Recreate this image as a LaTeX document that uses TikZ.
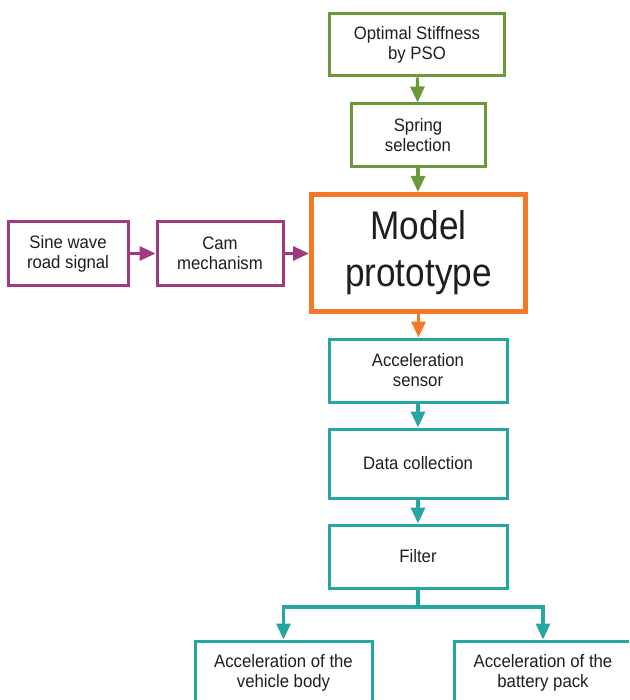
\documentclass[tikz,border=0pt]{standalone}
\usepackage{fontspec}
\setmainfont{Liberation Sans}[FakeStretch=0.93]
\newfontfamily\bigfont{Liberation Sans}[FakeStretch=0.88]
\usetikzlibrary{arrows.meta}
\definecolor{cgreen}{RGB}{106,153,59}
\definecolor{cpurple}{RGB}{160,57,128}
\definecolor{corange}{RGB}{245,120,40}
\definecolor{cteal}{RGB}{38,166,160}
\definecolor{ctext}{RGB}{30,30,30}
\tikzset{
  box/.style={draw, line width=3pt, fill=white, inner sep=0pt, align=center,
    text=ctext, font=\fontsize{18}{20}\selectfont},
  gbox/.style={box, draw=cgreen},
  pbox/.style={box, draw=cpurple},
  tbox/.style={box, draw=cteal},
  obox/.style={box, draw=corange, line width=5pt, font=\bigfont\fontsize{40}{47}\selectfont},
  arr/.style={line width=3.2pt, -{Triangle[length=16pt,width=14pt]}},
}
\begin{document}
\begin{tikzpicture}[x=1pt,y=-1pt]
\useasboundingbox (0,0) rectangle (629,700);
\clip (0,0) rectangle (629,700);
\fill[white] (0,0) rectangle (629,700);
\node[gbox, minimum width=175, minimum height=62] (pso) at (417,45) {Optimal Stiffness\\by PSO};
\node[gbox, minimum width=134, minimum height=63] (spring) at (418,135.5) {Spring\\selection};
\node[obox, minimum width=214, minimum height=117] (model) at (418.5,253) {Model\\prototype};
\node[pbox, minimum width=120, minimum height=63] (sine) at (68,253.5) {Sine wave\\road signal};
\node[pbox, minimum width=126, minimum height=63] (cam) at (220,253.5) {Cam\\mechanism};
\node[tbox, minimum width=178, minimum height=63] (sensor) at (418,370.5) {Acceleration\\sensor};
\node[tbox, minimum width=178, minimum height=69] (data) at (418,463.5) {Data collection};
\node[tbox, minimum width=178, minimum height=63] (filter) at (418,556.5) {Filter};
\node[tbox, minimum width=177, minimum height=63] (body) at (283.5,672.5) {Acceleration of the\\vehicle body};
\node[tbox, minimum width=177, minimum height=63] (pack) at (543,672.5) {Acceleration of the\\battery pack};
\coordinate (split) at (filter.south |- 0,607);
\draw[arr, cgreen] (pso) -- (spring);
\draw[arr, cgreen] (spring) -- (model.north -| spring.south);
\draw[arr, cpurple] (sine) -- (cam);
\draw[arr, cpurple] (cam) -- (model.west |- cam.east);
\draw[arr, corange] (model) -- (model.south |- sensor.north);
\draw[arr, cteal] (sensor) -- (data);
\draw[arr, cteal] (data) -- (filter);
\draw[line width=3.2pt, cteal] (filter.south) -- (split);
\draw[arr, cteal] (split) -| (body.north);
\draw[arr, cteal] (split) -| (pack.north);
\end{tikzpicture}
\end{document}
